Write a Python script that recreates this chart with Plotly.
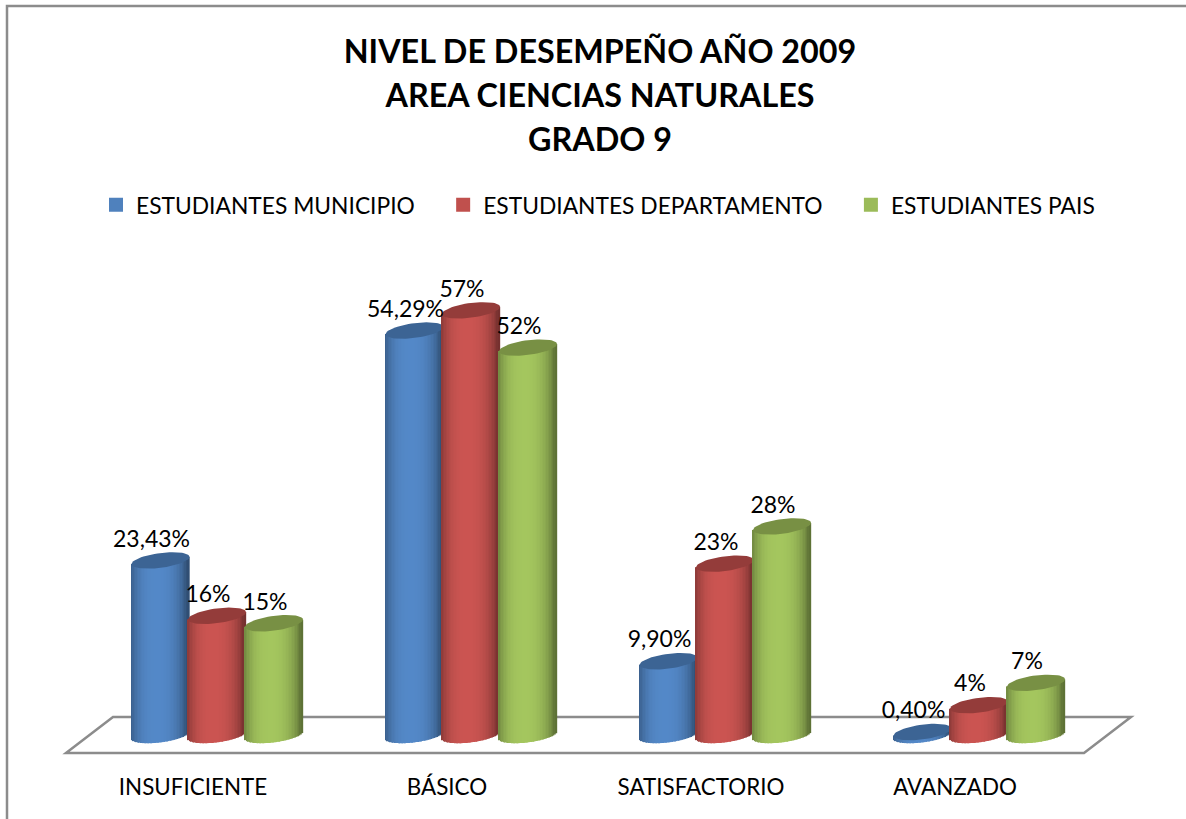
import math
import plotly.graph_objects as go

categories = ["INSUFICIENTE", "BÁSICO", "SATISFACTORIO", "AVANZADO"]
series_names = ["ESTUDIANTES MUNICIPIO\u00a0\u00a0\u00a0\u00a0", "ESTUDIANTES DEPARTAMENTO\u00a0\u00a0\u00a0\u00a0", "ESTUDIANTES PAIS"]
municipio = [23.43, 54.29, 9.90, 0.40]
departamento = [16, 57, 23, 4]
pais = [15, 52, 28, 7]
municipio_labels = ["23,43%", "54,29%", "9,90%", "0,40%"]
departamento_labels = ["16%", "57%", "23%", "4%"]
pais_labels = ["15%", "52%", "28%", "7%"]
title_lines = ["NIVEL DE DESEMPEÑO AÑO 2009", "AREA CIENCIAS NATURALES", "GRADO 9"]

FONT = "Lato"
W, H = 1186, 819
MB = 49
PH = H - MB
X0, PITCH = 193, 254          # pixel of category 0, pixels per category
Y0, SCALE = 735, 7.45         # pixel of value 0, pixels per percentage point
xr = [-X0 / PITCH, (W - X0) / PITCH]
yr = [(Y0 - PH) / SCALE, Y0 / SCALE]

colors = [(79, 129, 189), (192, 80, 77), (155, 187, 89)]
legend_colors = ["#4F81BD", "#C0504D", "#9BBB59"]
cap_colors = ["#3C6494", "#943C3A", "#789044"]
offsets = [-32.5 / PITCH, 24 / PITCH, 81 / PITCH]
half_w = 29 / PITCH
half_h = 7.4 / SCALE
tilt = 3.6 / SCALE
N = 40
rows = [municipio, departamento, pais]
label_rows = [municipio_labels, departamento_labels, pais_labels]


def py(p):
    return (H - MB - p) / PH


def shade(rgb, u):
    f = 0.68 + 0.38 * (1 - min(abs(u + 0.05), 1) ** 3)
    if u > 0:
        f -= 0.07 * u
    return "rgb(%d,%d,%d)" % tuple(min(255, int(c * f)) for c in rgb)


fig = go.Figure()
for s, vals in enumerate(rows):
    xs, bases, heights, cols = [], [], [], []
    for i, v in enumerate(vals):
        for k in range(N):
            u = -1 + (2 * k + 1) / N
            low = -half_h * math.sqrt(1 - u * u) + tilt * u
            xs.append(i + offsets[s] + u * half_w)
            bases.append(low)
            heights.append(v + tilt * u - low)
            cols.append(shade(colors[s], u))
    fig.add_trace(go.Bar(x=xs, y=heights, base=bases, width=2 * half_w / N * 1.25,
                         marker=dict(color=cols, line=dict(width=0)),
                         showlegend=False, hoverinfo="skip", zorder=s))
    for i, v in enumerate(vals):
        cx, cy = [], []
        for k in range(61):
            t = 2 * math.pi * k / 60
            cx.append(i + offsets[s] + half_w * math.cos(t))
            cy.append(v + half_h * math.sin(t) + tilt * math.cos(t))
        fig.add_trace(go.Scatter(x=cx, y=cy, mode="lines", fill="toself",
                                 fillcolor=cap_colors[s], line=dict(width=0),
                                 showlegend=False, hoverinfo="skip", zorder=s))

for s, name in enumerate(series_names):
    fig.add_trace(go.Scatter(x=[None], y=[None], mode="markers", name=name,
                             marker=dict(symbol="square", size=14, color=legend_colors[s])))

for s, vals in enumerate(rows):
    fig.add_trace(go.Scatter(
        x=[i + offsets[s] - 9 / PITCH for i in range(len(vals))],
        y=[v + 19.5 / SCALE for v in vals],
        mode="text", text=label_rows[s], textposition="middle center",
        textfont=dict(family=FONT, size=23, color="#000"),
        showlegend=False, hoverinfo="skip", zorder=10))

title_text = "<br>".join("<span style='font-size:32.3px'><b>%s</b></span>" % t for t in title_lines)

fig.update_layout(
    width=W, height=H, autosize=False,
    margin=dict(l=0, r=0, t=0, b=MB),
    paper_bgcolor="white", plot_bgcolor="rgba(0,0,0,0)",
    barmode="overlay",
    font=dict(family=FONT, color="#000"),
    title=dict(text=title_text, font=dict(family=FONT, size=34, color="#000"),
               x=600 / W, xanchor="center", y=1 - 63 / H, yanchor="top"),
    legend=dict(orientation="h", x=96 / W, xanchor="left", y=py(205), yanchor="middle",
                font=dict(family=FONT, size=22.8), itemwidth=30, bgcolor="rgba(0,0,0,0)",
                itemclick=False),
    xaxis=dict(range=xr, tickmode="array", tickvals=list(range(4)), ticktext=categories,
               showgrid=False, zeroline=False, showline=False, ticks="",
               tickfont=dict(family=FONT, size=22.4, color="#000"), ticklabelstandoff=2),
    yaxis=dict(range=yr, visible=False, showgrid=False, zeroline=False),
    shapes=[
        dict(type="path", xref="paper", yref="paper", layer="below",
             path="M %f %f L %f %f L %f %f L %f %f Z" % (
                 66 / W, py(753), 1084 / W, py(753), 1131 / W, py(717), 113 / W, py(717)),
             line=dict(color="#8C8C8C", width=2.5), fillcolor="white"),
        dict(type="rect", xref="paper", yref="paper", layer="below",
             x0=7 / W, x1=1.02, y0=py(830), y1=py(6),
             line=dict(color="#8C8C8C", width=2.5), fillcolor="rgba(0,0,0,0)"),
    ],
)
fig.write_html("out.html", config={"displayModeBar": False},
               post_script="document.body.style.margin='0';document.body.style.overflow='hidden';")
